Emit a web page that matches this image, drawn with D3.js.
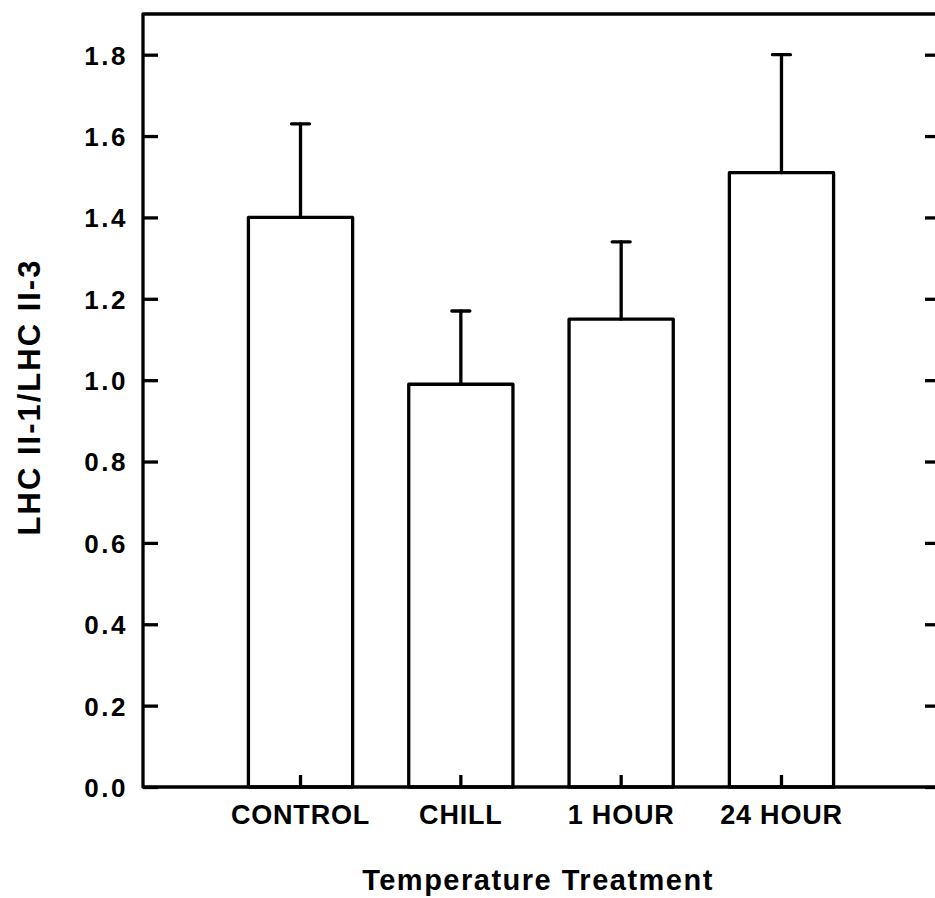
<!DOCTYPE html>
<html>
<head>
<meta charset="utf-8">
<script src="https://cdn.jsdelivr.net/npm/d3@7"></script>
<style>
  body { margin: 0; background: #fff; }
  svg text { font-family: "Liberation Sans", Arial, sans-serif; font-weight: bold; fill: #000; }
</style>
</head>
<body>
<div id="bar_chart"></div>
<script>
// data
const treatments = ["CONTROL", "CHILL", "1 HOUR", "24 HOUR"];
const ratios = [1.40, 0.99, 1.15, 1.51];
const errors = [0.23, 0.18, 0.19, 0.29];
const yTicks = [0.0, 0.2, 0.4, 0.6, 0.8, 1.0, 1.2, 1.4, 1.6, 1.8];

const W = 935, H = 898;
// frame edges (right one sits just past the page edge, as in the scan)
const frame = {left: 143, right: 941, top: 14, bottom: 787};

const svg = d3.select("#bar_chart").append("svg")
    .attr("width", W).attr("height", H);

const x = d3.scaleBand().domain(treatments).range([141, frame.right])
    .paddingInner(0.35).paddingOuter(0.67);
const y = d3.scaleLinear().domain([0, 1.9]).range([frame.bottom, frame.top]);

const pts = treatments.map((t, i) => ({name: t, val: ratios[i], err: errors[i]}));

// bars
svg.append("g").selectAll("rect").data(pts).join("rect")
    .attr("x", d => x(d.name))
    .attr("y", d => y(d.val))
    .attr("width", x.bandwidth())
    .attr("height", d => y(0) - y(d.val))
    .attr("fill", "none").attr("stroke", "#000").attr("stroke-width", 3.3)
    .attr("stroke-linejoin", "round");

// error bars (upper only)
const eb = svg.append("g").attr("stroke", "#000").attr("stroke-width", 3.3).attr("stroke-linecap", "round");
eb.selectAll("line.v").data(pts).join("line").attr("class", "v")
    .attr("x1", d => x(d.name) + x.bandwidth() / 2)
    .attr("x2", d => x(d.name) + x.bandwidth() / 2)
    .attr("y1", d => y(d.val))
    .attr("y2", d => y(d.val + d.err));
eb.selectAll("line.cap").data(pts).join("line").attr("class", "cap")
    .attr("x1", d => x(d.name) + x.bandwidth() / 2 - 9)
    .attr("x2", d => x(d.name) + x.bandwidth() / 2 + 9)
    .attr("y1", d => y(d.val + d.err))
    .attr("y2", d => y(d.val + d.err));

// axes
const yAxis = svg.append("g").attr("transform", `translate(${frame.left},0)`)
    .call(d3.axisLeft(y).tickValues(yTicks).tickFormat(d3.format(".1f")).tickSize(-15).tickPadding(15));
yAxis.selectAll("text").attr("font-size", 26).attr("letter-spacing", 2.5).attr("dy", "0.36em");

const yAxisR = svg.append("g").attr("transform", `translate(${frame.right},0)`)
    .call(d3.axisRight(y).tickValues(yTicks).tickFormat("").tickSize(-16));

const xAxis = svg.append("g").attr("transform", `translate(0,${frame.bottom})`)
    .call(d3.axisBottom(x).tickSize(-12).tickPadding(32));
xAxis.selectAll("text").attr("font-size", 27).attr("letter-spacing", 0.8).attr("dy", "0.2em");

[yAxis, yAxisR, xAxis].forEach(a => {
    a.select(".domain").remove();
    a.selectAll(".tick line").attr("stroke", "#000").attr("stroke-width", 3.3);
});

// frame
svg.append("path")
    .attr("d", `M${frame.right},${frame.top}H${frame.left}V${frame.bottom}H${frame.right}`)
    .attr("fill", "none").attr("stroke", "#000").attr("stroke-width", 3.3)
    .attr("stroke-linejoin", "round");

// axis titles
svg.append("text")
    .attr("x", 538).attr("y", 890)
    .attr("text-anchor", "middle").attr("font-size", 29).attr("letter-spacing", 1.5)
    .text("Temperature Treatment");

svg.append("text")
    .attr("transform", "translate(40,397) rotate(-90)")
    .attr("text-anchor", "middle").attr("font-size", 31).attr("letter-spacing", 2)
    .text("LHC II-1/LHC II-3");
</script>
</body>
</html>
